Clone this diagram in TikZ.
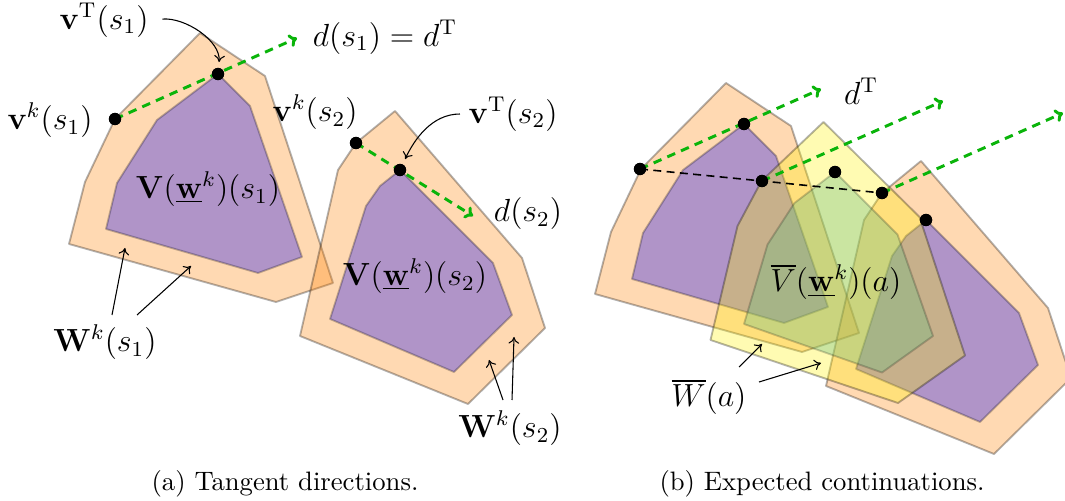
\documentclass[tikz,border=0pt]{standalone}
\usetikzlibrary{arrows.meta}
\definecolor{porange}{RGB}{255,128,0}
\definecolor{vpurple}{RGB}{176,148,200}
\definecolor{pgreen}{RGB}{105,190,130}
\definecolor{dgreen}{RGB}{10,180,10}
\tikzset{
  outerW/.style={fill=porange, fill opacity=0.3, draw=black, draw opacity=0.3, line width=0.7pt, line join=round},
  innerV/.style={fill=vpurple, draw=black, draw opacity=0.25, line width=0.7pt, line join=round},
  avgW/.style={fill=yellow, fill opacity=0.3, draw=black, draw opacity=0.3, line width=0.7pt, line join=round},
  avgV/.style={fill=pgreen, fill opacity=0.35, draw=black, draw opacity=0.2, line width=0.7pt, line join=round},
  dot/.style={circle, fill=black, inner sep=0pt, minimum size=4.6pt},
  lbl/.style={font=\large, inner sep=1pt},
  captext/.style={font=\normalsize, inner sep=1pt},
  tang/.style={draw=dgreen, line width=1.1pt, dash pattern=on 3.2pt off 2.4pt, -{To[length=3pt,width=5pt]}},
  avgline/.style={draw=black, line width=0.6pt, dash pattern=on 3pt off 2pt},
  pointer/.style={draw=black, line width=0.4pt, -{To[length=2.5pt,width=4pt]}},
}
\newcommand{\WoneP}{(200,33) -- (265,76) -- (333,283) -- (276,302) -- (69,244) -- (85,182) -- (115,119) -- cycle}
\newcommand{\VoneP}{(218,74) -- (250,106) -- (302,257) -- (258,273) -- (106,229) -- (117,183) -- (157,120) -- cycle}
\newcommand{\WtwoP}{(395,111) -- (522,258) -- (545,328) -- (468,404) -- (300,336) -- (338,170) -- (356,143) -- cycle}
\newcommand{\VtwoP}{(400,170) -- (493,263) -- (512,315) -- (454,372) -- (330,319) -- (366,206) -- (380,186) -- cycle}
\newcommand{\WavgP}{(297.5,72) -- (393.5,167) -- (439,305.5) -- (372,353) -- (184.5,290) -- (211.5,176) -- (235.5,131) -- cycle}
\newcommand{\VavgP}{(309,122) -- (371.5,184.5) -- (407,286) -- (356,322.5) -- (218,274) -- (241.5,194.5) -- (268.5,153) -- cycle}
\begin{document}
\begin{tikzpicture}[x=0.375pt, y=-0.375pt]
\useasboundingbox (0,0) rectangle (1065,501);

% ---------------- (a) ----------------
\path[outerW] \WoneP;
\path[innerV] \VoneP;
\path[outerW] \WtwoP;
\path[innerV] \VtwoP;

\node[dot] (vk1) at (115,119) {};
\node[dot] (vT1) at (218,74) {};
\node[dot] (vk2) at (356,143) {};
\node[dot] (vT2) at (400,170) {};
\coordinate (d1end) at (297,38);
\coordinate (d2end) at (473,216);
\draw[tang] (vk1.center) -- (d1end);
\draw[tang] (vk2.center) -- (d2end);
\node[dot] at (vk1) {};
\node[dot] at (vT1) {};
\node[dot] at (vk2) {};
\node[dot] at (vT2) {};

\node[lbl] (LvT1) at (104,20) {$\mathbf{v}^{\mathrm{T}}(s_1)$};
\node[lbl] (Ld1) at (385,37) {$d(s_1) = d^{\mathrm{T}}$};
\node[lbl] (Lvk1) at (50,120) {$\mathbf{v}^{k}(s_1)$};
\node[lbl] (Lvk2) at (315,112) {$\mathbf{v}^{k}(s_2)$};
\node[lbl] (LV1) at (208,189) {$\mathbf{V}(\underline{\mathbf{w}}^k)(s_1)$};
\node[lbl] (LvT2) at (513,114) {$\mathbf{v}^{\mathrm{T}}(s_2)$};
\node[lbl] (Ld2) at (528,214) {$d(s_2)$};
\node[lbl] (LV2) at (415,276) {$\mathbf{V}(\underline{\mathbf{w}}^k)(s_2)$};
\node[lbl] (LW1) at (105,342) {$\mathbf{W}^{k}(s_1)$};
\node[lbl] (LW2) at (510,428) {$\mathbf{W}^{k}(s_2)$};

\draw[pointer, shorten <=4pt, shorten >=4.5pt] (LvT1.east) to[out=5, in=85] (vT1.center);
\draw[pointer, shorten <=2pt, shorten >=4.5pt] (LvT2.west) to[out=180, in=65] (vT2.center);

\coordinate (w1s1) at (112,315); \coordinate (w1e1) at (125,248);
\coordinate (w1s2) at (137,315); \coordinate (w1e2) at (191,266);
\coordinate (w2s1) at (503,400); \coordinate (w2e1) at (489,360);
\coordinate (w2s2) at (512,400); \coordinate (w2e2) at (514,337);
\draw[pointer] (w1s1) -- (w1e1);
\draw[pointer] (w1s2) -- (w1e2);
\draw[pointer] (w2s1) -- (w2e1);
\draw[pointer] (w2s2) -- (w2e2);

\node[captext] (capa) at (285,484) {(a) Tangent directions.};

% ---------------- (b) ----------------
\begin{scope}[shift={(526,50)}]
\path[outerW] \WoneP;
\path[innerV] \VoneP;
\path[outerW] \WtwoP;
\path[innerV] \VtwoP;
\path[avgW] \WavgP;
\path[avgV] \VavgP;
\end{scope}

\node[dot] (bk1) at (640,169) {};
\node[dot] (bT1) at (744,124) {};
\node[dot] (bkm) at (762,181) {};
\node[dot] (bTm) at (835,172) {};
\node[dot] (bk2) at (882,193) {};
\node[dot] (bT2) at (926,220) {};
\coordinate (e1) at (821,89);
\coordinate (e2) at (943,101);
\coordinate (e3) at (1063,113);
\draw[tang] (bk1.center) -- (e1);
\draw[tang] (bkm.center) -- (e2);
\draw[tang] (bk2.center) -- (e3);
\draw[avgline] (bk1.center) -- (bkm.center) -- (bk2.center);
\foreach \p in {bk1,bT1,bkm,bTm,bk2,bT2} \node[dot] at (\p) {};

\node[lbl] (LdT) at (861,91) {$d^{\mathrm{T}}$};
\node[lbl] (LVa) at (836,282) {$\overline{V}(\underline{\mathbf{w}}^k)(a)$};
\node[lbl] (LWa) at (709,397) {$\overline{W}(a)$};
\coordinate (wa1) at (762,344);
\coordinate (wa2) at (821,363);
\coordinate (was1) at (739,367);
\coordinate (was2) at (759,382);
\draw[pointer] (was1) -- (wa1);
\draw[pointer] (was2) -- (wa2);

\node[captext] (capb) at (822,484) {(b) Expected continuations.};
\end{tikzpicture}
\end{document}
